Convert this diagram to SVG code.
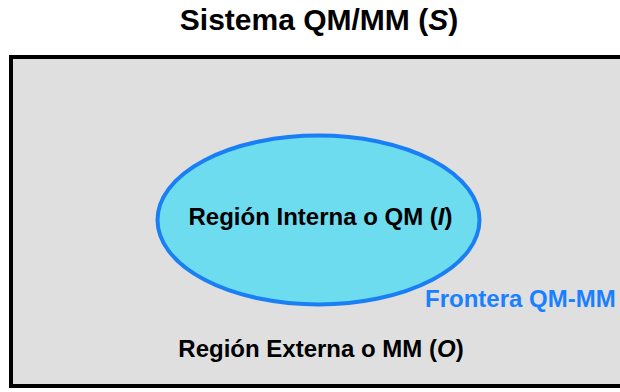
<svg xmlns="http://www.w3.org/2000/svg" width="620" height="392" viewBox="0 0 620 392">
  <style>
    text { font-family: "Liberation Sans", Arial, sans-serif; font-weight: bold; text-anchor: middle; }
    .title { font-size: 30px; fill: #000; }
    .label { font-size: 24px; fill: #000; }
    .boundary { font-size: 24px; fill: #1a80ff; text-anchor: start; }
  </style>
  <rect width="620" height="392" fill="#ffffff"/>

  <!-- Title -->
  <text class="title" x="319" y="30">Sistema QM/MM (<tspan font-style="italic">S</tspan>)</text>

  <!-- Outer region (MM) -->
  <g id="outer-region">
    <rect x="11" y="57" width="620" height="329" fill="#dfdfdf" stroke="#000" stroke-width="4"/>
    <text class="label" x="321" y="357">Región Externa o MM (<tspan font-style="italic">O</tspan>)</text>
  </g>

  <!-- Inner region (QM) -->
  <g id="inner-region">
    <ellipse cx="318.5" cy="220" rx="161" ry="84.5" fill="#6ddcef" stroke="#1a7ff5" stroke-width="4"/>
    <text class="label" x="320.5" y="225">Región Interna o QM (<tspan font-style="italic">I</tspan>)</text>
  </g>

  <!-- Boundary label -->
  <g id="boundary-label">
    <text class="boundary" x="425" y="306.5">Frontera QM-MM</text>
  </g>
</svg>
